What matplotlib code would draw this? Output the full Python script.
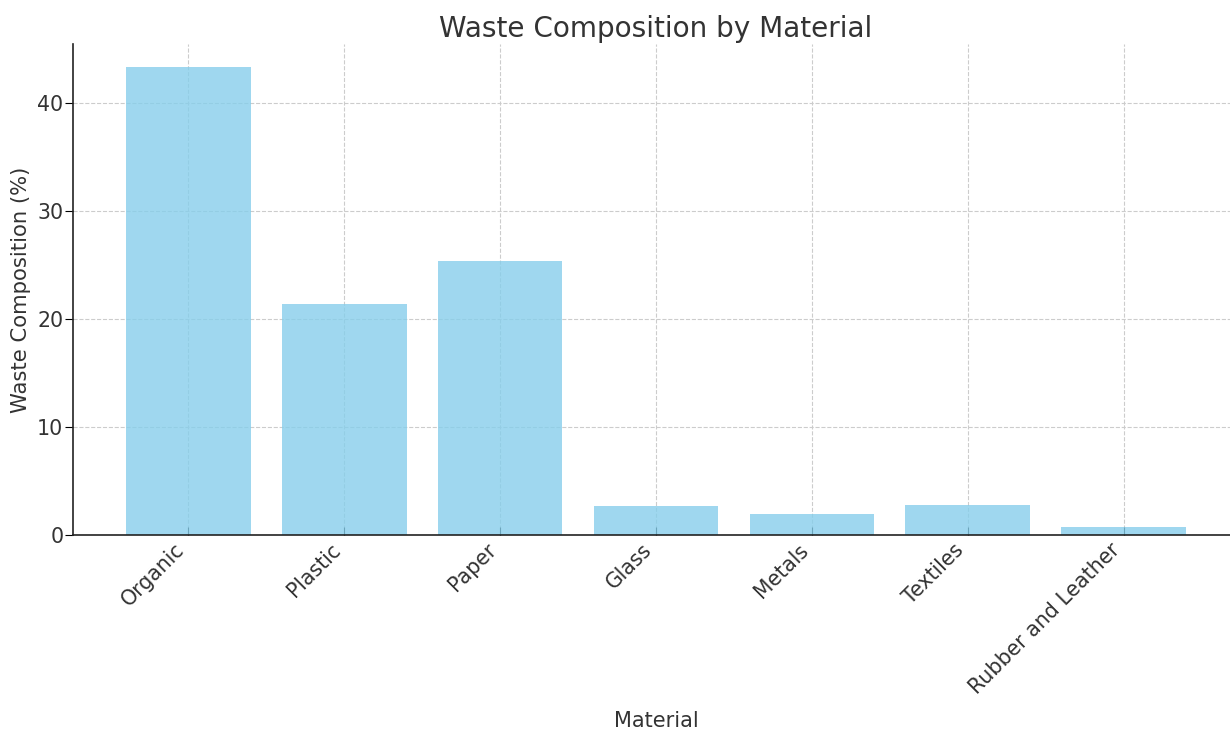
import matplotlib
matplotlib.use("Agg")
import matplotlib.pyplot as plt

materials = ["Organic", "Plastic", "Paper", "Glass", "Metals", "Textiles", "Rubber and Leather"]
composition = [43.3, 21.4, 25.4, 2.7, 1.9, 2.8, 0.75]
yTicks = [0, 10, 20, 30, 40]

textColor = "#333333"

fig = plt.figure(figsize=(12.3, 7.29), dpi=100)
ax = fig.add_axes([73 / 1230, 1 - 535 / 729, (1239 - 73) / 1230, (535 - 44) / 729])

ax.bar(materials, composition, width=0.8, color="skyblue", alpha=0.8, zorder=2)
ax.grid(True, linestyle="--", color="#cccccc", linewidth=0.8, zorder=1)
ax.set_axisbelow(True)

ax.spines["top"].set_visible(False)
ax.spines["right"].set_visible(False)
ax.spines["left"].set_color("#222222")
ax.spines["bottom"].set_color("#222222")
ax.spines["left"].set_linewidth(1.2)
ax.spines["bottom"].set_linewidth(1.2)

ax.set_yticks(yTicks)
ax.tick_params(axis="x", direction="in", length=6, labelsize=14.8, labelcolor=textColor)
ax.tick_params(axis="y", direction="out", length=6, pad=1, labelsize=14.8, labelcolor=textColor)
plt.setp(ax.get_xticklabels(), rotation=45, ha="right")

ax.set_title("Waste Composition by Material", fontsize=20.1, color=textColor, pad=5)
ax.set_xlabel("Material", fontsize=15, color=textColor, labelpad=9)
ax.set_ylabel("Waste Composition (%)", fontsize=15.2, color=textColor)

fig.savefig("out.png", dpi=100)
